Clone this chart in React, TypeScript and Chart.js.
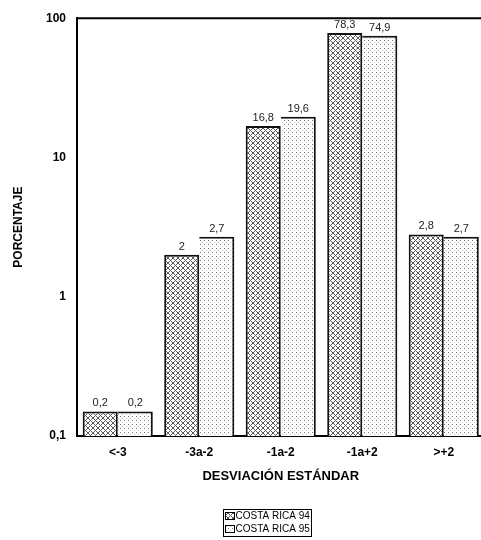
import { useEffect, useRef } from "react";
import { Chart, registerables } from "chart.js";

Chart.register(...registerables);

const FONT = "'Liberation Sans', Arial, Helvetica, sans-serif";

const categories = ["<-3", "-3a-2", "-1a-2", "-1a+2", ">+2"];
const seriesNames = ["COSTA RICA 94", "COSTA RICA 95"];
const values94 = [0.15, 2, 16.8, 78.3, 2.8];
const values95 = [0.15, 2.7, 19.6, 74.9, 2.7];
const labels94 = ["0,2", "2", "16,8", "78,3", "2,8"];
const labels95 = ["0,2", "2,7", "19,6", "74,9", "2,7"];
const yTicks = [0.1, 1, 10, 100];
const yTickLabels = ["0,1", "1", "10", "100"];
const yTitle = "PORCENTAJE";
const xTitle = "DESVIACIÓN ESTÁNDAR";

function makeCrossHatch(ctx: CanvasRenderingContext2D) {
  const n = 5;
  const c = document.createElement("canvas");
  c.width = n;
  c.height = n;
  const g = c.getContext("2d")!;
  g.fillStyle = "#ffffff";
  g.fillRect(0, 0, n, n);
  g.fillStyle = "#5a5a5a";
  for (let i = 0; i < n; i++) {
    g.fillRect(i, i, 1, 1);
    g.fillRect(i, (n - i) % n, 1, 1);
  }
  return ctx.createPattern(c, "repeat")!;
}

function makeDots(ctx: CanvasRenderingContext2D) {
  const c = document.createElement("canvas");
  c.width = 4;
  c.height = 4;
  const g = c.getContext("2d")!;
  g.fillStyle = "#ffffff";
  g.fillRect(0, 0, 4, 4);
  g.fillStyle = "#777777";
  g.fillRect(0, 0, 1, 1);
  g.fillStyle = "#c4c4c4";
  g.fillRect(2, 2, 1, 1);
  return ctx.createPattern(c, "repeat")!;
}

const valueLabels = {
  id: "valueLabels",
  afterDatasetsDraw(chart: any) {
    const ctx = chart.ctx;
    const sets = [labels94, labels95];
    ctx.save();
    ctx.font = `11px ${FONT}`;
    ctx.fillStyle = "#222222";
    ctx.textAlign = "center";
    ctx.textBaseline = "alphabetic";
    sets.forEach((arr, i) => {
      const meta = chart.getDatasetMeta(i);
      meta.data.forEach((bar: any, j: number) => {
        ctx.fillText(arr[j], bar.x, bar.y - 5);
      });
    });
    ctx.restore();
  },
};

const frameAndLegend = {
  id: "frameAndLegend",
  afterDraw(chart: any) {
    const ctx = chart.ctx;
    const area = chart.chartArea;
    ctx.save();
    ctx.strokeStyle = "#000000";
    ctx.lineWidth = 2;
    ctx.beginPath();
    ctx.moveTo(area.left - 1, area.top);
    ctx.lineTo(chart.width, area.top);
    ctx.stroke();

    // legend
    ctx.font = `10px ${FONT}`;
    const widths = seriesNames.map((n) => ctx.measureText(n).width);
    const sw = 9;
    const sh = 7;
    const pad = 2;
    const rowH = 13;
    const boxW = Math.round(pad + sw + 1 + Math.max(...widths) + pad);
    const boxH = rowH * seriesNames.length + 1;
    const x0 = 223.5;
    const y0 = 509.5;
    ctx.lineWidth = 1;
    ctx.fillStyle = "#ffffff";
    ctx.fillRect(x0, y0, boxW, boxH);
    ctx.strokeRect(x0, y0, boxW, boxH);
    seriesNames.forEach((name, i) => {
      const ds = chart.data.datasets[i];
      const sy = y0 + 3 + i * rowH;
      ctx.fillStyle = ds.backgroundColor;
      ctx.fillRect(x0 + pad, sy, sw, sh);
      ctx.strokeStyle = "#000000";
      ctx.strokeRect(x0 + pad, sy, sw, sh);
      ctx.fillStyle = "#000000";
      ctx.textAlign = "left";
      ctx.textBaseline = "middle";
      ctx.fillText(name, x0 + pad + sw + 1, sy + sh / 2 + 0.5);
    });
    ctx.restore();
  },
};

export default function App() {
  const ref = useRef<HTMLCanvasElement | null>(null);

  useEffect(() => {
    const canvas = ref.current;
    if (!canvas) return;
    const ctx = canvas.getContext("2d")!;
    const hatch = makeCrossHatch(ctx);
    const dots = makeDots(ctx);

    const chart = new Chart(canvas, {
      type: "bar",
      data: {
        labels: categories,
        datasets: [
          {
            label: seriesNames[0],
            data: values94,
            backgroundColor: hatch as any,
            borderColor: "#111111",
            borderWidth: { top: 2, left: 2, right: 2, bottom: 0 } as any,
            borderSkipped: false,
            categoryPercentage: 0.86,
            barPercentage: 1,
          },
          {
            label: seriesNames[1],
            data: values95,
            backgroundColor: dots as any,
            borderColor: "#111111",
            borderWidth: { top: 2, left: 0, right: 2, bottom: 0 } as any,
            borderSkipped: false,
            categoryPercentage: 0.86,
            barPercentage: 1,
          },
        ],
      },
      options: {
        animation: false,
        responsive: true,
        maintainAspectRatio: false,
        layout: { padding: { top: 15, right: 5.5, bottom: 0, left: 0 } },
        plugins: {
          legend: { display: false },
          tooltip: { enabled: false },
        },
        scales: {
          x: {
            type: "category",
            grid: { display: false, drawTicks: false },
            border: { display: true, color: "#000000", width: 2 },
            ticks: {
              color: "#000000",
              padding: 9,
              font: { family: FONT, size: 12, weight: "bold" },
              maxRotation: 0,
            },
            title: {
              display: true,
              text: xTitle,
              color: "#000000",
              font: { family: FONT, size: 13, weight: "bold" },
              padding: { top: 0, bottom: 56 },
            },
            afterFit: (scale: any) => {
              scale.height = 104;
            },
          },
          y: {
            type: "logarithmic",
            min: 0.1,
            max: 100,
            grid: { display: false, drawTicks: false },
            border: { display: true, color: "#000000", width: 2 },
            afterBuildTicks: (axis: any) => {
              axis.ticks = yTicks.map((v) => ({ value: v }));
            },
            ticks: {
              color: "#000000",
              padding: 11,
              font: { family: FONT, size: 12, weight: "bold" },
              callback: (value: any) => {
                const i = yTicks.indexOf(Number(value));
                return i >= 0 ? yTickLabels[i] : "";
              },
            },
            title: {
              display: true,
              text: yTitle,
              color: "#000000",
              font: { family: FONT, size: 12, weight: "bold" },
              padding: { top: 11, bottom: 0 },
            },
            afterFit: (scale: any) => {
              scale.width = 77;
            },
          },
        },
      },
      plugins: [valueLabels, frameAndLegend],
    });

    return () => chart.destroy();
  }, []);

  return (
    <div
      style={{
        position: "fixed",
        left: 0,
        top: 0,
        width: 481,
        height: 540,
        overflow: "hidden",
        background: "#ffffff",
      }}
    >
      <div style={{ position: "relative", width: 490, height: 540 }}>
        <canvas ref={ref} />
      </div>
    </div>
  );
}
